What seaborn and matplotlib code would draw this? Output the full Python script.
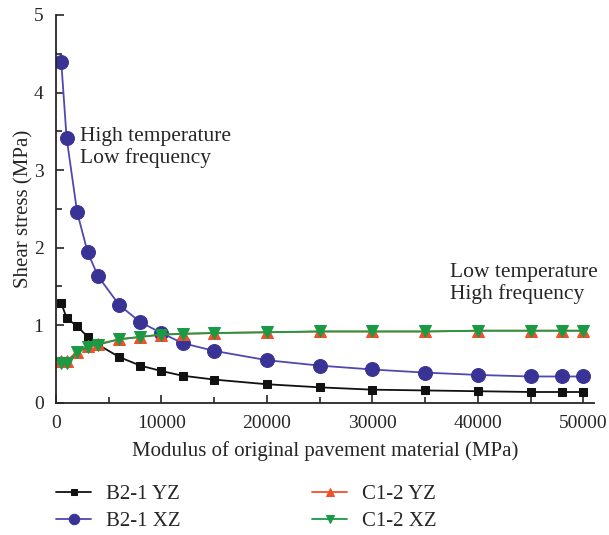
import pandas as pd
import seaborn as sns
import matplotlib.pyplot as plt
from matplotlib.ticker import MultipleLocator

modulus = [500, 1000, 2000, 3000, 4000, 6000, 8000, 10000, 12000, 15000,
           20000, 25000, 30000, 35000, 40000, 45000, 48000, 50000]
b21_yz = [1.29, 1.09, 0.99, 0.85, 0.75, 0.59, 0.48, 0.41, 0.35, 0.30,
          0.24, 0.20, 0.17, 0.16, 0.15, 0.14, 0.14, 0.14]
b21_xz = [4.39, 3.42, 2.46, 1.94, 1.63, 1.26, 1.04, 0.90, 0.77, 0.67,
          0.55, 0.48, 0.43, 0.39, 0.36, 0.34, 0.34, 0.34]
c12_yz = [0.54, 0.54, 0.66, 0.73, 0.76, 0.82, 0.85, 0.88, 0.89, 0.90,
          0.91, 0.92, 0.92, 0.92, 0.93, 0.93, 0.93, 0.93]
c12_xz = [0.52, 0.52, 0.65, 0.72, 0.75, 0.82, 0.85, 0.88, 0.89, 0.90,
          0.91, 0.92, 0.92, 0.92, 0.93, 0.93, 0.93, 0.93]

sns.set_style("ticks")
plt.rcParams['font.family'] = ['Liberation Serif', 'DejaVu Serif']
plt.rcParams['font.size'] = 14

fig = plt.figure(figsize=(6.09, 5.35), dpi=100)
ax = fig.add_axes([0.092, 0.247, 0.883, 0.725])

series = [
    ("B2-1 YZ", b21_yz, "#111111", "#111111", "s", 6),
    ("B2-1 XZ", b21_xz, "#5048b0", "#3a3396", "o", 10),
    ("C1-2 YZ", c12_yz, "#f0502a", "#f0502a", "^", 8),
    ("C1-2 XZ", c12_xz, "#1a9a45", "#1a9a45", "v", 8),
]
df = pd.DataFrame({"x": modulus})
for name, vals, lc, mc, mk, ms in series:
    df["y"] = vals
    sns.lineplot(data=df, x="x", y="y", ax=ax, color=lc, marker=mk,
                 markersize=ms, markerfacecolor=mc, markeredgecolor=mc,
                 linewidth=1.3, label=name, legend=False)

ax.set_xlim(0, 51000)
ax.set_ylim(0, 5)
ax.xaxis.set_major_locator(MultipleLocator(10000))
ax.xaxis.set_minor_locator(MultipleLocator(5000))
ax.yaxis.set_major_locator(MultipleLocator(1))
ax.yaxis.set_minor_locator(MultipleLocator(0.5))
ax.tick_params(which='both', direction='in', width=1.2)
ax.tick_params(which='major', length=6, pad=9)
ax.tick_params(which='minor', length=4)
ax.tick_params(axis='y', pad=9)
for s in ['top', 'right']:
    ax.spines[s].set_visible(False)
for s in ['left', 'bottom']:
    ax.spines[s].set_linewidth(1.3)

ax.set_xlabel("Modulus of original pavement material (MPa)", fontsize=15,
              labelpad=6)
ax.set_ylabel("Shear stress (MPa)", fontsize=15, labelpad=0)

ax.text(2300, 3.55, "High temperature\nLow frequency", fontsize=15.5,
        va='top', linespacing=1.1)
ax.text(37400, 1.8, "Low temperature\nHigh frequency", fontsize=15.5,
        va='top', linespacing=1.1)

handles, labels = ax.get_legend_handles_labels()
fig.legend(handles, labels,
           loc='lower left', bbox_to_anchor=(0.085, 0.0), ncol=2,
           frameon=False, handlelength=1.7, columnspacing=6.3,
           markerscale=0.75, fontsize=15, labelspacing=0.35,
           handletextpad=0.7, borderaxespad=0.0, borderpad=0.2)

fig.savefig("out.png", dpi=100)
